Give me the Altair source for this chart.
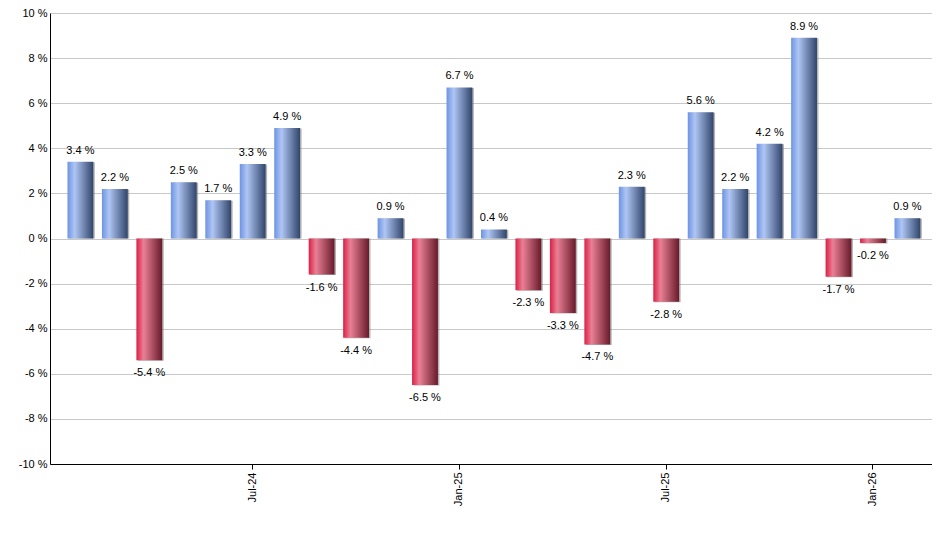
import altair as alt
import pandas as pd

months = ["Feb-24", "Mar-24", "Apr-24", "May-24", "Jun-24", "Jul-24", "Aug-24",
          "Sep-24", "Oct-24", "Nov-24", "Dec-24", "Jan-25", "Feb-25", "Mar-25",
          "Apr-25", "May-25", "Jun-25", "Jul-25", "Aug-25", "Sep-25", "Oct-25",
          "Nov-25", "Dec-25", "Jan-26", "Feb-26"]
values = [3.4, 2.2, -5.4, 2.5, 1.7, 3.3, 4.9, -1.6, -4.4, 0.9, -6.5, 6.7, 0.4,
          -2.3, -3.3, -4.7, 2.3, -2.8, 5.6, 2.2, 4.2, 8.9, -1.7, -0.2, 0.9]
tick_months = ["Jul-24", "Jan-25", "Jul-25", "Jan-26"]
y_ticks = [-10, -8, -6, -4, -2, 0, 2, 4, 6, 8, 10]

df = pd.DataFrame({"month": months, "value": values})
df["label"] = df["value"].map(lambda v: f"{v:.1f} %")

FONT = "Liberation Sans"

x_enc = alt.X(
    "month:O",
    sort=months,
    scale=alt.Scale(paddingInner=0.25, paddingOuter=0.4225, align=0.6),
    axis=alt.Axis(
        values=tick_months, title=None, labelAngle=270, labelAlign="right",
        labelBaseline="middle", labelPadding=3, ticks=True, tickSize=5,
        tickColor="black", domainColor="black", grid=False,
        labelFont=FONT, labelFontSize=11, labelColor="black",
    ),
)
y_enc = alt.Y(
    "value:Q",
    scale=alt.Scale(domain=[-10, 10], nice=False),
    axis=alt.Axis(
        values=y_ticks, title=None, labelExpr="datum.value + ' %'",
        ticks=False, labelPadding=3, domainColor="black", gridColor="#c8c8c8",
        labelFont=FONT, labelFontSize=11, labelColor="black",
    ),
)

blue = alt.LinearGradient(
    gradient="linear", x1=0, x2=1, y1=0, y2=0,
    stops=[
        alt.GradientStop(offset=0, color="#6d93e3"),
        alt.GradientStop(offset=0.28, color="#afc6f4"),
        alt.GradientStop(offset=1, color="#31456b"),
    ],
)
red = alt.LinearGradient(
    gradient="linear", x1=0, x2=1, y1=0, y2=0,
    stops=[
        alt.GradientStop(offset=0, color="#dc1f45"),
        alt.GradientStop(offset=0.28, color="#e98095"),
        alt.GradientStop(offset=1, color="#681a2a"),
    ],
)

base = alt.Chart(df)

shadow = base.mark_bar(color="#777777", opacity=0.55, xOffset=1.5, yOffset=0.5).encode(
    x=x_enc, y=y_enc, y2=alt.datum(0)
)
pos_bars = base.transform_filter("datum.value >= 0").mark_bar(color=blue).encode(
    x=x_enc, y=y_enc, y2=alt.datum(0)
)
neg_bars = base.transform_filter("datum.value < 0").mark_bar(color=red).encode(
    x=x_enc, y=y_enc, y2=alt.datum(0)
)
pos_text = base.transform_filter("datum.value >= 0").mark_text(
    baseline="bottom", dy=-6, font=FONT, fontSize=11, color="black"
).encode(x=x_enc, y=y_enc, text="label:N")
neg_text = base.transform_filter("datum.value < 0").mark_text(
    baseline="top", dy=7, font=FONT, fontSize=11, color="black"
).encode(x=x_enc, y=y_enc, text="label:N")

chart = (
    alt.layer(shadow, pos_bars, neg_bars, pos_text, neg_text)
    .properties(
        width=882, height=451,
        autosize=alt.AutoSizeParams(type="none"),
        padding={"left": 42, "top": 5, "right": 0, "bottom": 50},
        background="white",
    )
    .configure_view(strokeOpacity=0)
)

chart.save("out.html", embed_options={"renderer": "svg", "actions": False})
